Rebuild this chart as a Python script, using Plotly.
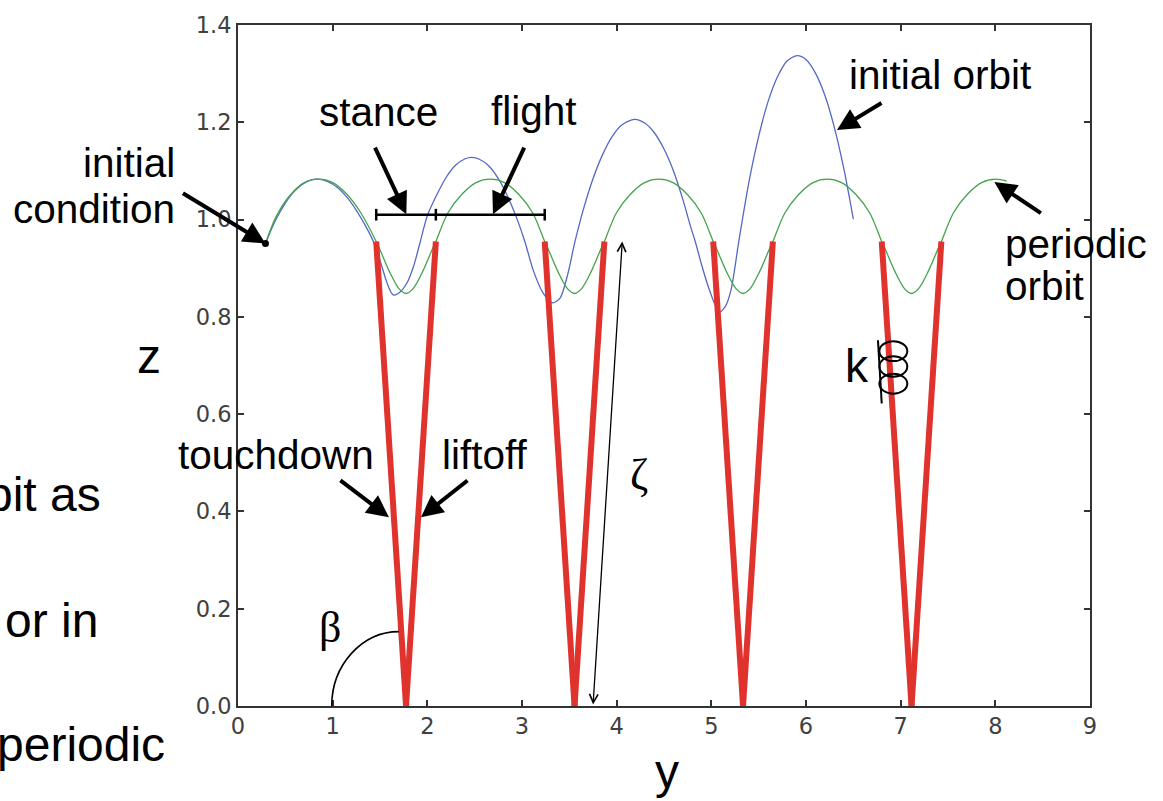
import plotly.graph_objects as go

# ---- data -------------------------------------------------------------
# periodic orbit of the hopping mass (horizontal position y, height z)
periodic_y = [0.29, 0.40, 0.55, 0.70, 0.85, 1.00, 1.15, 1.30, 1.46,
              1.50, 1.60, 1.70, 1.775, 1.85, 1.95, 2.05, 2.09,
              2.215, 2.365, 2.515, 2.665, 2.815, 2.965, 3.115, 3.24,
              3.28, 3.38, 3.48, 3.555, 3.63, 3.73, 3.83, 3.87,
              3.995, 4.145, 4.295, 4.445, 4.595, 4.745, 4.895, 5.02,
              5.06, 5.16, 5.26, 5.335, 5.41, 5.51, 5.61, 5.65,
              5.775, 5.925, 6.075, 6.225, 6.375, 6.525, 6.675, 6.80,
              6.84, 6.94, 7.04, 7.115, 7.19, 7.29, 7.39, 7.43,
              7.555, 7.705, 7.855, 8.005, 8.12]
periodic_z = [0.951, 1.005, 1.050, 1.076, 1.083, 1.076, 1.052, 1.013, 0.955,
              0.938, 0.893, 0.858, 0.848, 0.858, 0.893, 0.938, 0.955,
              1.013, 1.052, 1.076, 1.083, 1.076, 1.052, 1.013, 0.955,
              0.938, 0.893, 0.858, 0.848, 0.858, 0.893, 0.938, 0.955,
              1.013, 1.052, 1.076, 1.083, 1.076, 1.052, 1.013, 0.955,
              0.938, 0.893, 0.858, 0.848, 0.858, 0.893, 0.938, 0.955,
              1.013, 1.052, 1.076, 1.083, 1.076, 1.052, 1.013, 0.955,
              0.938, 0.893, 0.858, 0.848, 0.858, 0.893, 0.938, 0.955,
              1.013, 1.052, 1.076, 1.083, 1.079]

# initial orbit started from the same initial condition
initial_y = [0.29, 0.40, 0.50, 0.60, 0.70, 0.83, 0.95, 1.05, 1.15, 1.25, 1.35, 1.43,
             1.50, 1.56, 1.60, 1.64, 1.70, 1.78, 1.85, 1.926,
             2.00, 2.10, 2.20, 2.30, 2.40, 2.47, 2.55, 2.65, 2.75, 2.85, 2.94, 3.03,
             3.12, 3.22, 3.32, 3.40, 3.48, 3.56,
             3.65, 3.75, 3.85, 3.95, 4.05, 4.19, 4.30, 4.40, 4.50, 4.60, 4.70, 4.78, 4.83,
             4.90, 4.98, 5.085, 5.15, 5.21, 5.29,
             5.40, 5.50, 5.60, 5.70, 5.80, 5.907, 6.00, 6.10, 6.20, 6.30, 6.40, 6.50]
initial_z = [0.951, 1.000, 1.034, 1.059, 1.075, 1.083, 1.078, 1.066, 1.046, 1.019, 0.986, 0.955,
             0.916, 0.878, 0.857, 0.845, 0.849, 0.868, 0.901, 0.955,
             1.008, 1.051, 1.087, 1.112, 1.125, 1.128, 1.124, 1.110, 1.084, 1.047, 1.005, 0.955,
             0.895, 0.850, 0.829, 0.838, 0.885, 0.955,
             1.022, 1.084, 1.133, 1.170, 1.194, 1.206, 1.198, 1.178, 1.145, 1.100, 1.041, 0.986, 0.955,
             0.905, 0.855, 0.810, 0.822, 0.857, 0.955,
             1.080, 1.171, 1.243, 1.294, 1.326, 1.337, 1.329, 1.301, 1.255, 1.189, 1.104, 1.001]

# legs of the periodic orbit during each stance phase
touchdown_y = [1.46, 3.24, 5.02, 6.80]
foot_y = [1.775, 3.555, 5.335, 7.115]
liftoff_y = [2.09, 3.87, 5.65, 7.43]
leg_top_z = 0.955

start_y, start_z = 0.29, 0.951

x_ticks = [0, 1, 2, 3, 4, 5, 6, 7, 8, 9]
z_ticks = [0.0, 0.2, 0.4, 0.6, 0.8, 1.0, 1.2, 1.4]

# ---- styling ------------------------------------------------------------
SANS = "Liberation Sans, Arial, Helvetica, sans-serif"
SERIF = "Liberation Serif, DejaVu Serif, Times New Roman, serif"
TICKS = "DejaVu Sans, Bitstream Vera Sans, sans-serif"
W, H = 1163, 801
ML, MR, MT, MB = 238, 73, 17, 95
PW, PH = W - ML - MR, H - MT - MB


def px(xp):
    return (xp - ML) / PW


def py(yp):
    return (H - MB - yp) / PH


fig = go.Figure()

fig.add_trace(go.Scatter(x=initial_y, y=initial_z, mode="lines",
                         line=dict(color="#5468c4", width=1.3, shape="spline", smoothing=0.8),
                         hoverinfo="skip", showlegend=False))
fig.add_trace(go.Scatter(x=periodic_y, y=periodic_z, mode="lines",
                         line=dict(color="#43a34a", width=1.3, shape="spline", smoothing=0.8),
                         hoverinfo="skip", showlegend=False))

leg_x, leg_z = [], []
for td, ft, lo in zip(touchdown_y, foot_y, liftoff_y):
    leg_x += [td, ft, None, ft, lo, None]
    leg_z += [leg_top_z, 0.0, None, 0.0, leg_top_z, None]
fig.add_trace(go.Scatter(x=leg_x, y=leg_z, mode="lines",
                         line=dict(color="#e0332e", width=6),
                         hoverinfo="skip", showlegend=False))

fig.add_trace(go.Scatter(x=[start_y], y=[start_z], mode="markers",
                         marker=dict(color="black", size=7),
                         hoverinfo="skip", showlegend=False))

annotations = []


def label(text, xp, yp, size=40.5, xanchor="center", family=SANS):
    annotations.append(dict(text=text, xref="paper", yref="paper", x=px(xp), y=py(yp),
                            xanchor=xanchor, yanchor="middle", showarrow=False,
                            font=dict(family=family, size=size, color="black")))


def pointer(xd, zd, ax, ay):
    annotations.append(dict(text="", x=xd, y=zd, xref="x", yref="y", ax=ax, ay=ay,
                            showarrow=True, arrowhead=2, arrowsize=1.1, arrowwidth=4,
                            arrowcolor="black", standoff=0))


# phase labels and pointers
label("initial", 177, 157, xanchor="right")
label("condition", 177, 203, xanchor="right")
pointer(start_y, start_z, -84, -51)

label("stance", 378, 105)
label("flight", 534, 104)
pointer(1.778, 1.011, -32, -68)
pointer(2.693, 1.011, 32, -68)

label("initial orbit", 940, 68)
pointer(6.327, 1.184, 46, -28)

label("periodic", 1003, 239, xanchor="left")
label("orbit", 1003, 281, xanchor="left")
pointer(7.99, 1.077, 48, 32)

label("touchdown", 276, 452)
label("liftoff", 485, 452)
pointer(1.594, 0.388, -50, -38)
pointer(1.933, 0.388, 48, -38)

label("β", 330, 627, size=44, family=SERIF)
label("ζ", 639, 472, size=44, family=SERIF)
label("k", 857, 362, size=46)

# axis names
label("z", 149, 352, size=48)
label("y", 667, 772, size=48)

# surrounding slide text
label("bit as", 103, 492, size=48, xanchor="right")
label("or in", 100, 620, size=48, xanchor="right")
label("periodic", 167, 745, size=48, xanchor="right")

# leg length arrow
annotations.append(dict(text="", x=4.059, y=0.955, ax=3.750, ay=0.0, xref="x", yref="y",
                        axref="x", ayref="y", showarrow=True, arrowside="end+start",
                        arrowhead=5, startarrowhead=5, arrowsize=1.3, startarrowsize=1.3,
                        arrowwidth=1.3, arrowcolor="black", standoff=0, startstandoff=0))

shapes = []
# stance / flight span bar
bar_z = 1.01
shapes.append(dict(type="line", xref="x", yref="y", x0=touchdown_y[0], x1=touchdown_y[1],
                   y0=bar_z, y1=bar_z, line=dict(color="black", width=2.5)))
for xb in (touchdown_y[0], liftoff_y[0], touchdown_y[1]):
    shapes.append(dict(type="line", xref="x", yref="y", x0=xb, x1=xb,
                       y0=bar_z - 0.012, y1=bar_z + 0.012, line=dict(color="black", width=2.5)))

# leg angle arc
shapes.append(dict(type="path", xref="x", yref="y",
                   path="M 1.70,0.153 C 1.31,0.153 0.99,0.0845 0.99,0",
                   line=dict(color="black", width=1.6)))

# spring coil
shapes.append(dict(type="line", xref="x", yref="y", x0=6.76, y0=0.752, x1=6.80, y1=0.622,
                   line=dict(color="black", width=2)))
for z0, z1 in ((0.709, 0.750), (0.677, 0.719), (0.642, 0.683)):
    shapes.append(dict(type="circle", xref="x", yref="y", x0=6.775, x1=7.07, y0=z0, y1=z1,
                       line=dict(color="black", width=2)))

axis_common = dict(showgrid=False, zeroline=False, showline=True, linecolor="#333333",
                   linewidth=2, mirror="ticks", ticks="inside", ticklen=6, tickwidth=1.5,
                   tickcolor="#333333", tickfont=dict(family=TICKS, size=22.5, color="#404040"))

fig.update_layout(
    width=W, height=H,
    margin=dict(l=ML, r=MR, t=MT, b=MB, pad=0),
    paper_bgcolor="white", plot_bgcolor="white",
    xaxis=dict(range=[0, 9], tickvals=x_ticks, ticktext=[str(v) for v in x_ticks],
               ticklabelstandoff=-1, **axis_common),
    yaxis=dict(range=[0, 1.4], tickvals=z_ticks, ticktext=[f"{v:.1f}" for v in z_ticks],
               ticklabelstandoff=0, **axis_common),
    annotations=annotations,
    shapes=shapes,
)

fig.write_html("out.html")
